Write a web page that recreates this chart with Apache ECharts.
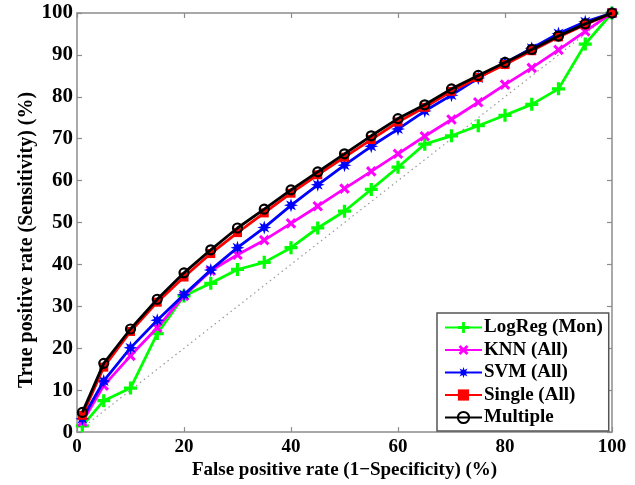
<!DOCTYPE html>
<html>
<head>
<meta charset="utf-8">
<script src="https://cdn.jsdelivr.net/npm/echarts@6/dist/echarts.min.js"></script>
<style>
html,body{margin:0;padding:0;background:#fff;}
#chart{width:635px;height:485px;}
</style>
</head>
<body>
<div id="chart"></div>
<script>
// ---- data ----
const fpr = [1, 5, 10, 15, 20, 25, 30, 35, 40, 45, 50, 55, 60, 65, 70, 75, 80, 85, 90, 95, 100];
const logReg = [1.5, 7.5, 10.5, 23.5, 32.5, 35.5, 38.8, 40.5, 44.0, 48.7, 52.7, 57.9, 63.2, 68.7, 70.7, 73.1, 75.6, 78.2, 81.9, 92.6, 100];
const knn = [2.4, 11.1, 18.2, 24.9, 32.5, 38.5, 42.3, 45.8, 49.8, 53.9, 58.1, 62.2, 66.4, 70.6, 74.6, 78.7, 82.9, 86.9, 91.2, 95.6, 100];
const svm = [3.2, 12.2, 20.1, 26.7, 32.8, 38.7, 44.0, 48.8, 54.1, 59.0, 63.7, 68.2, 72.3, 76.6, 80.4, 84.5, 88.1, 91.6, 95.1, 97.9, 100];
const single = [4.0, 15.5, 24.0, 31.0, 37.0, 42.6, 47.6, 52.3, 57.0, 61.4, 65.6, 69.8, 74.0, 77.5, 81.3, 84.6, 87.7, 91.0, 94.3, 97.2, 100];
const multiple = [4.7, 16.4, 24.6, 31.7, 38.0, 43.5, 48.7, 53.2, 57.8, 62.1, 66.4, 70.7, 74.8, 78.1, 81.9, 85.1, 88.2, 91.3, 94.5, 97.4, 100];
const seriesNames = ['LogReg (Mon)', 'KNN (All)', 'SVM (All)', 'Single (All)', 'Multiple'];
const chance = [[0, 0], [100, 100]];
const xTitle = 'False positive rate (1\u2212Specificity) (%)';
const yTitle = 'True positive rate (Sensitivity) (%)';

// ---- styles ----
const FONT = '"Liberation Serif", "Times New Roman", serif';
const AXIS_COLOR = '#8c8c8c';
const plusPath = 'path://M-1.5,-6H1.5V-1.5H6V1.5H1.5V6H-1.5V1.5H-6V-1.5H-1.5Z';
let star = 'path://';
for (let k = 0; k < 16; k++) {
  const a = k * Math.PI / 8;
  const r = k % 2 === 0 ? 6 : 2.8;
  star += (k === 0 ? 'M' : 'L') + (r * Math.cos(a)).toFixed(3) + ',' + (r * Math.sin(a)).toFixed(3);
}
star += 'Z';

function pairs(ys) { return fpr.map((x, i) => [x, ys[i]]); }

const defs = [
  { data: logReg, color: '#00ff00', symbol: plusPath, size: 13, rotate: 0 },
  { data: knn, color: '#ff00ff', symbol: plusPath, size: 12, rotate: 45 },
  { data: svm, color: '#0000ff', symbol: star, size: 14, rotate: 0 },
  { data: single, color: '#ff0000', symbol: 'rect', size: 9, rotate: 0 },
  { data: multiple, color: '#000000', symbol: 'circle', size: 9, rotate: 0 }
];

const series = [{
  type: 'line', name: 'chance', data: chance, xAxisIndex: 0, yAxisIndex: 0,
  symbol: 'none', silent: true, z: 1,
  lineStyle: { color: '#9a9a9a', width: 1.2, type: [1.5, 3.5] }
}];
defs.forEach((d, i) => {
  const isCircle = d.symbol === 'circle';
  series.push({
    type: 'line', name: seriesNames[i], data: pairs(d.data),
    xAxisIndex: 0, yAxisIndex: 0, z: 2 + i,
    symbol: d.symbol, symbolSize: d.size, symbolRotate: d.rotate,
    showAllSymbol: true,
    lineStyle: { color: d.color, width: 2.8 },
    itemStyle: isCircle
      ? { color: 'rgba(0,0,0,0)', borderColor: d.color, borderWidth: 2.2 }
      : { color: d.color, borderWidth: 0 },
    emphasis: { disabled: true },
    animation: false
  });
});

const xLabelStyle = { fontFamily: FONT, fontWeight: 'bold', fontSize: 19, color: '#000' };
const yLabelStyle = { fontFamily: FONT, fontWeight: 'bold', fontSize: 21, color: '#000' };

const option = {
  animation: false,
  backgroundColor: '#fff',
  grid: { left: 77, right: 23, top: 13, bottom: 50, containLabel: false },
  xAxis: [
    {
      type: 'value', min: 0, max: 100, interval: 20, position: 'bottom',
      axisLine: { show: true, onZero: false, lineStyle: { color: AXIS_COLOR, width: 1.5 } },
      axisTick: { show: true, inside: true, length: 5, lineStyle: { color: AXIS_COLOR, width: 1.2 } },
      axisLabel: Object.assign({ margin: 5 }, xLabelStyle),
      splitLine: { show: false },
      name: xTitle, nameLocation: 'middle', nameGap: 28,
      nameTextStyle: { fontFamily: FONT, fontWeight: 'bold', fontSize: 19, color: '#000' }
    },
    {
      type: 'value', min: 0, max: 100, interval: 20, position: 'top',
      axisLine: { show: true, onZero: false, lineStyle: { color: AXIS_COLOR, width: 1.5 } },
      axisTick: { show: true, inside: true, length: 5, lineStyle: { color: AXIS_COLOR, width: 1.2 } },
      axisLabel: { show: false }, splitLine: { show: false }
    }
  ],
  yAxis: [
    {
      type: 'value', min: 0, max: 100, interval: 10, position: 'left',
      axisLine: { show: true, onZero: false, lineStyle: { color: AXIS_COLOR, width: 1.5 } },
      axisTick: { show: true, inside: true, length: 5, lineStyle: { color: AXIS_COLOR, width: 1.2 } },
      axisLabel: Object.assign({ margin: 4 }, yLabelStyle),
      splitLine: { show: false }
    },
    {
      type: 'value', min: 0, max: 100, interval: 10, position: 'right',
      axisLine: { show: true, onZero: false, lineStyle: { color: AXIS_COLOR, width: 1.5 } },
      axisTick: { show: true, inside: true, length: 5, lineStyle: { color: AXIS_COLOR, width: 1.2 } },
      axisLabel: { show: false }, splitLine: { show: false }
    }
  ],
  graphic: [{
    type: 'text', x: 27, y: 240, rotation: Math.PI / 2, silent: true,
    style: {
      text: yTitle, fill: '#000', align: 'center', verticalAlign: 'middle',
      font: 'bold 20px ' + FONT
    }
  }],
  legend: {
    data: seriesNames,
    orient: 'vertical',
    left: 437, top: 313,
    padding: [5, 6, 4, 7],
    itemGap: 3.5,
    itemWidth: 37, itemHeight: 14,
    backgroundColor: '#fff',
    borderColor: '#555', borderWidth: 1.5, borderRadius: 0,
    selectedMode: false,
    textStyle: { fontFamily: FONT, fontWeight: 'bold', fontSize: 19, color: '#000', padding: [0, 0, 0, -3] }
  },
  series: series
};

const chart = echarts.init(document.getElementById('chart'), null, { renderer: 'canvas' });
chart.setOption(option);
</script>
</body>
</html>
